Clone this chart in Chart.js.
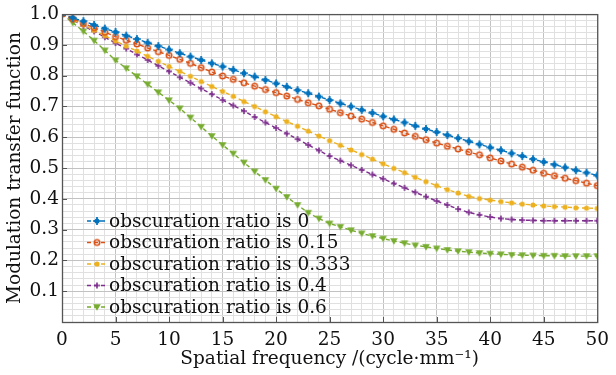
<!DOCTYPE html>
<html>
<head>
<meta charset="utf-8">
<script src="https://cdn.jsdelivr.net/npm/chart.js@4.4.0/dist/chart.umd.min.js"></script>
<style>
  html, body { margin: 0; padding: 0; background: #fff; }
  #wrap { width: 616px; height: 375px; position: relative; }
</style>
</head>
<body>
<div id="wrap"><canvas id="mtf"></canvas></div>
<script>
// spatial frequency, cycle/mm
const freq = [0,1,2,3,4,5,6,7,8,9,10,11,12,13,14,15,16,17,18,19,20,21,22,23,24,25,
  26,27,28,29,30,31,32,33,34,35,36,37,38,39,40,41,42,43,44,45,46,47,48,49,50];

// MTF per obscuration ratio
const mtfRatio0 = [1.000,0.988,0.977,0.965,0.953,0.942,0.930,0.919,0.907,0.896,0.885,
  0.873,0.862,0.851,0.840,0.830,0.819,0.808,0.797,0.786,0.775,0.764,0.753,0.743,0.732,0.721,
  0.710,0.700,0.689,0.679,0.668,0.658,0.648,0.637,0.627,0.617,0.607,0.597,0.587,0.577,0.567,
  0.558,0.548,0.539,0.529,0.520,0.511,0.502,0.493,0.485,0.476];
const mtfRatio015 = [1.000,0.985,0.970,0.956,0.941,0.927,0.915,0.903,0.890,0.878,0.866,
  0.853,0.840,0.826,0.812,0.799,0.788,0.777,0.766,0.755,0.745,0.734,0.723,0.712,0.702,0.691,
  0.680,0.669,0.659,0.648,0.637,0.626,0.614,0.603,0.592,0.581,0.571,0.562,0.552,0.543,0.533,
  0.523,0.513,0.503,0.493,0.483,0.475,0.467,0.459,0.451,0.443];
const mtfRatio0333 = [1.000,0.982,0.965,0.947,0.930,0.913,0.896,0.880,0.863,0.847,0.830,
  0.814,0.798,0.781,0.765,0.749,0.733,0.716,0.700,0.683,0.667,0.651,0.636,0.620,0.604,0.589,
  0.574,0.559,0.544,0.529,0.514,0.499,0.485,0.470,0.456,0.443,0.430,0.419,0.408,0.401,0.396,
  0.391,0.387,0.383,0.380,0.377,0.375,0.373,0.371,0.370,0.369];
const mtfRatio04 = [1.000,0.981,0.962,0.944,0.925,0.906,0.888,0.869,0.851,0.832,0.814,
  0.795,0.777,0.758,0.740,0.721,0.703,0.685,0.666,0.648,0.630,0.612,0.594,0.575,0.557,0.539,
  0.524,0.509,0.494,0.479,0.465,0.450,0.436,0.421,0.407,0.393,0.380,0.367,0.356,0.348,0.341,
  0.336,0.333,0.331,0.330,0.329,0.329,0.329,0.329,0.329,0.329];
const mtfRatio06 = [1.000,0.972,0.944,0.914,0.882,0.850,0.824,0.798,0.772,0.746,0.720,
  0.694,0.664,0.634,0.604,0.575,0.547,0.518,0.489,0.461,0.433,0.406,0.380,0.355,0.336,0.320,
  0.309,0.298,0.288,0.279,0.271,0.263,0.256,0.249,0.244,0.239,0.234,0.230,0.227,0.224,0.222,
  0.220,0.218,0.217,0.216,0.215,0.215,0.214,0.214,0.214,0.214];

const seriesLabels = ['obscuration ratio is 0', 'obscuration ratio is 0.15',
  'obscuration ratio is 0.333', 'obscuration ratio is 0.4', 'obscuration ratio is 0.6'];
const seriesData = [mtfRatio0, mtfRatio015, mtfRatio0333, mtfRatio04, mtfRatio06];
const xTickLabels = [0, 5, 10, 15, 20, 25, 30, 35, 40, 45, 50];
const yTickLabels = [0.1, 0.2, 0.3, 0.4, 0.5, 0.6, 0.7, 0.8, 0.9, 1.0];

const colors = ['#0072BD', '#D95319', '#EDB120', '#7E2F8E', '#77AC30'];
const markerKinds = ['plusdot', 'ring', 'dot', 'plus', 'tri'];
const FONT = { family: "'DejaVu Serif', serif", size: 18.5 };

// small canvases used as point markers
function makeMarker(kind, color) {
    const s = 12, m = s / 2;
    const c = document.createElement('canvas');
    c.width = s; c.height = s;
    const g = c.getContext('2d');
    g.fillStyle = color; g.strokeStyle = color;
    if (kind === 'plusdot') {
        g.beginPath(); g.arc(m, m, 2.5, 0, Math.PI * 2); g.fill();
        g.lineWidth = 1.7;
        g.beginPath(); g.moveTo(m - 4, m); g.lineTo(m + 4, m); g.moveTo(m, m - 4); g.lineTo(m, m + 4); g.stroke();
    } else if (kind === 'ring') {
        g.lineWidth = 1.6;
        g.beginPath(); g.arc(m, m, 2.7, 0, Math.PI * 2); g.stroke();
    } else if (kind === 'dot') {
        g.beginPath(); g.arc(m, m, 2.6, 0, Math.PI * 2); g.fill();
    } else if (kind === 'plus') {
        g.lineWidth = 1.6;
        g.beginPath(); g.moveTo(m - 3, m); g.lineTo(m + 3, m); g.moveTo(m, m - 3); g.lineTo(m, m + 3); g.stroke();
    } else {
        g.beginPath(); g.moveTo(m - 3.8, m - 2.8); g.lineTo(m + 3.8, m - 2.8); g.lineTo(m, m + 3.8); g.closePath(); g.fill();
    }
    return c;
}
const markers = markerKinds.map((k, i) => makeMarker(k, colors[i]));

// frame, inner tick marks and the legend inside the plot
const framePlugin = {
    id: 'frame',
    afterDraw(chart) {
        const { ctx, chartArea: a, scales } = chart;
        ctx.save();
        ctx.strokeStyle = '#555';
        ctx.lineWidth = 1;
        ctx.beginPath();
        xTickLabels.forEach(v => {
            const x = Math.round(scales.x.getPixelForValue(v)) + 0.5;
            ctx.moveTo(x, a.bottom); ctx.lineTo(x, a.bottom - 5);
        });
        yTickLabels.forEach(v => {
            const y = Math.round(scales.y.getPixelForValue(v)) + 0.5;
            ctx.moveTo(a.left, y); ctx.lineTo(a.left + 5, y);
        });
        ctx.stroke();
        ctx.lineWidth = 1.3;
        ctx.strokeRect(a.left + 0.5, a.top + 0.5, a.right - a.left, a.bottom - a.top);

        // legend
        ctx.font = FONT.size + 'px ' + FONT.family;
        ctx.textBaseline = 'middle';
        ctx.textAlign = 'left';
        seriesLabels.forEach((lab, i) => {
            const y = 221 + i * 21.5;
            ctx.strokeStyle = colors[i];
            ctx.lineWidth = 1.4;
            ctx.setLineDash([4, 3]);
            ctx.beginPath(); ctx.moveTo(87, y); ctx.lineTo(106, y); ctx.stroke();
            ctx.setLineDash([]);
            ctx.drawImage(markers[i], 97 - 6, y - 6);
            ctx.fillStyle = '#111';
            ctx.fillText(lab, 109, y + 1);
        });
        ctx.restore();
    }
};

const isMajorX = v => xTickLabels.includes(v);
const isMajorY = v => yTickLabels.some(t => Math.abs(t - v) < 1e-6);

new Chart(document.getElementById('mtf'), {
    type: 'line',
    data: {
        labels: freq,
        datasets: seriesData.map((d, i) => ({
            label: seriesLabels[i],
            data: d,
            borderColor: colors[i],
            backgroundColor: colors[i],
            borderWidth: 1.4,
            borderDash: [4, 3],
            pointStyle: markers[i],
            pointRadius: 3,
            tension: 0,
            fill: false
        }))
    },
    options: {
        responsive: true,
        maintainAspectRatio: false,
        animation: false,
        layout: { padding: { top: 13, right: 13, left: 0, bottom: 0 } },
        plugins: { legend: { display: false }, tooltip: { enabled: false } },
        scales: {
            x: {
                type: 'linear', min: 0, max: 50,
                afterBuildTicks(scale) {
                    const t = [];
                    for (let i = 0; i <= 50; i++) t.push({ value: i });
                    scale.ticks = t;
                },
                afterFit(scale) { scale.height = 53; },
                border: { display: false },
                grid: {
                    drawTicks: false,
                    color: c => isMajorX(c.tick.value) ? '#c2c2c2' : '#e0e0e0'
                },
                ticks: {
                    autoSkip: false, maxRotation: 0, padding: 7,
                    font: FONT, color: '#111',
                    callback: v => isMajorX(v) ? String(v) : ''
                },
                title: {
                    display: true, text: 'Spatial frequency /(cycle·mm⁻¹)',
                    font: FONT, color: '#111', padding: { top: 0, bottom: 5 }
                }
            },
            y: {
                min: 0, max: 1,
                afterBuildTicks(scale) {
                    const t = [];
                    for (let i = 0; i <= 50; i++) t.push({ value: i / 50 });
                    scale.ticks = t;
                },
                afterFit(scale) { scale.width = 62; },
                border: { display: false },
                grid: {
                    drawTicks: false,
                    color: c => isMajorY(c.tick.value) ? '#c2c2c2' : '#e0e0e0'
                },
                ticks: {
                    autoSkip: false, padding: 3,
                    font: FONT, color: '#111',
                    callback: v => isMajorY(v) ? v.toFixed(1) : ''
                },
                title: {
                    display: true, text: 'Modulation transfer function',
                    font: FONT, color: '#111', padding: { top: 4, bottom: 0 }
                }
            }
        }
    },
    plugins: [framePlugin]
});
</script>
</body>
</html>
